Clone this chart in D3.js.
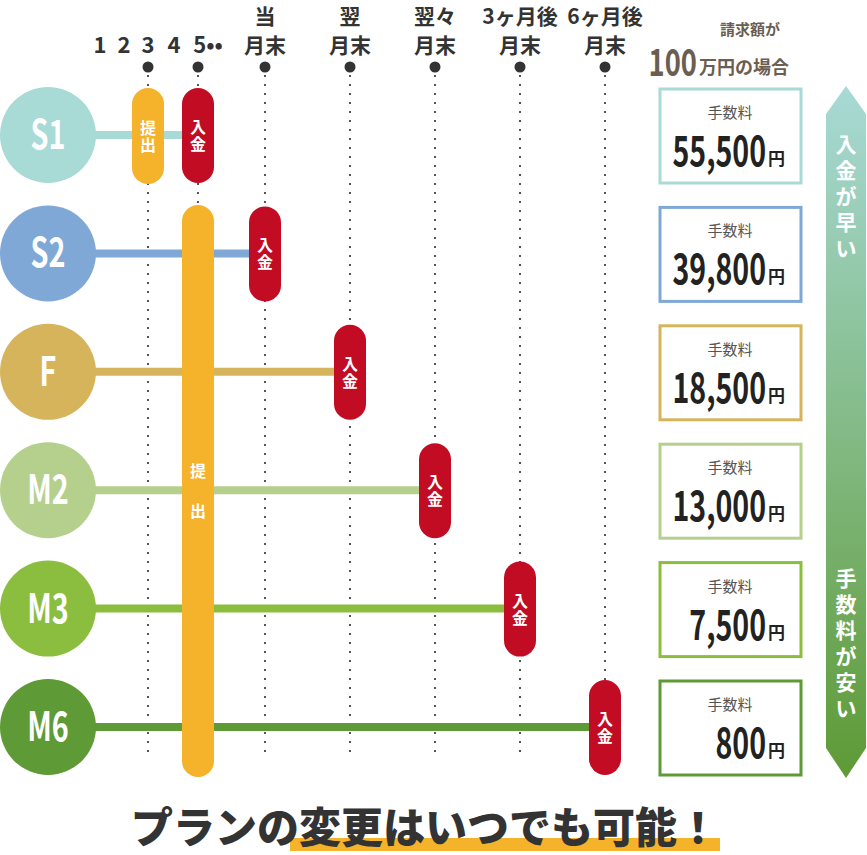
<!DOCTYPE html>
<html><head><meta charset="utf-8">
<script src="https://cdn.jsdelivr.net/npm/d3@7"></script>
<style>body{margin:0;background:#fff}text{font-family:"Noto Sans CJK JP","Noto Sans",sans-serif}</style>
</head><body>
<svg id="c" width="867" height="855"></svg>
<script>
// plans, colours, fee and payment column
var plans = ["S1","S2","F","M2","M3","M6"];
var planColors = ["#a8dad6","#7fa8d6","#d5b45c","#b5d08c","#8bbd3f","#5e9a35"];
var fees = ["55,500","39,800","18,500","13,000","7,500","800"];
var payCol = [4, 5, 6, 7, 8, 9];
var submitCol = [2, 4, 4, 4, 4, 4];
var dayLabels = ["1","2","3","4","5••"];
var monthTop = ["当","翌","翌々","3ヶ月後","6ヶ月後"];
var monthBottom = ["月末","月末","月末","月末","月末"];

var svg = d3.select("#c");
var red = "#c20c24", orange = "#f5b22b", dark = "#333";
var narrow = "'Roboto','Noto Sans',sans-serif";

// column positions (0..4 days, 5..9 month ends)
var colX = d3.scaleOrdinal().domain(d3.range(10))
  .range([100,124,148,174,198,265,350,435,520,605]);
var rowY = d3.scalePoint().domain(plans).range([135,727]);

// condensed text by horizontal squeeze
function squeezed(x, y, sx){
  return svg.append("g").attr("transform","translate("+x+","+y+") scale("+sx+",1)")
    .append("text");
}

// header labels
dayLabels.forEach(function(d,i){
  svg.append("text").attr("x", colX(i)+(i==4?10:0)).attr("y",53).attr("text-anchor","middle")
    .attr("font-size",22).attr("font-weight","bold").attr("fill",dark).text(d);
});
monthTop.forEach(function(d,i){
  svg.append("text").attr("x",colX(i+5)).attr("y",24).attr("text-anchor","middle")
    .attr("font-size",21).attr("font-weight","bold").attr("fill",dark).text(d);
  svg.append("text").attr("x",colX(i+5)).attr("y",53).attr("text-anchor","middle")
    .attr("font-size",21).attr("font-weight","bold").attr("fill",dark).text(monthBottom[i]);
});

// dots and dotted guides
[2,4,5,6,7,8,9].forEach(function(c){
  svg.append("circle").attr("cx",colX(c)).attr("cy",67).attr("r",5.5).attr("fill",dark);
  svg.append("line").attr("x1",colX(c)).attr("x2",colX(c)).attr("y1",75).attr("y2",752)
    .attr("stroke","#555").attr("stroke-width",2).attr("stroke-dasharray","2,7");
});

function pill(x, y1, y2, fill, label, spread){
  svg.append("rect").attr("x",x-16).attr("y",y1).attr("width",32).attr("height",y2-y1)
    .attr("rx",16).attr("fill",fill);
  var cy = (y1+y2)/2, gap = spread||17;
  label.split("").forEach(function(ch,k){
    svg.append("text").attr("x",x).attr("y",cy+(k-(label.length-1)/2)*gap+6)
      .attr("text-anchor","middle").attr("font-size",16).attr("font-weight","bold")
      .attr("fill","#fff").text(ch);
  });
}

// rows
plans.forEach(function(p,i){
  var y = rowY(p);
  svg.append("line").attr("x1",60).attr("x2",colX(payCol[i])).attr("y1",y).attr("y2",y)
    .attr("stroke",planColors[i]).attr("stroke-width",8);
});
// big shared submission pill
pill(colX(4), 205, 777, orange, "提出", 40);
plans.forEach(function(p,i){
  var y = rowY(p);
  if (i==0) pill(colX(submitCol[i]), 88, 184, orange, "提出");
  pill(colX(payCol[i]), y-47, y+48, red, "入金");
  svg.append("circle").attr("cx",48).attr("cy",y).attr("r",48).attr("fill",planColors[i]);
  squeezed(48, y+14, 0.72).attr("text-anchor","middle")
    .attr("font-family",narrow).attr("font-size",40).attr("font-weight","bold")
    .attr("fill","#fff").text(p);
  // fee box
  svg.append("rect").attr("x",660).attr("y",y-46).attr("width",141).attr("height",94)
    .attr("fill","#fff").attr("stroke",planColors[i]).attr("stroke-width",3);
  svg.append("text").attr("x",730).attr("y",y-17).attr("text-anchor","middle")
    .attr("font-size",15).attr("fill","#555").text("手数料");
  squeezed(766, y+31, 0.68).attr("text-anchor","end")
    .attr("font-family",narrow).attr("font-size",42).attr("font-weight","bold")
    .attr("fill","#222").text(fees[i]);
  svg.append("text").attr("x",768).attr("y",y+30).attr("font-size",17)
    .attr("font-weight","bold").attr("fill","#222").text("円");
});

// top-right header
svg.append("text").attr("x",750).attr("y",35).attr("text-anchor","middle")
  .attr("font-size",15).attr("font-weight","bold").attr("fill","#6b5d4f").text("請求額が");
squeezed(697, 76, 0.72).attr("text-anchor","end").attr("font-family",narrow)
  .attr("font-size",38).attr("font-weight","bold").attr("fill","#6b5d4f").text("100");
svg.append("text").attr("x",699).attr("y",74).attr("font-size",18).attr("font-weight","bold")
  .attr("fill","#6b5d4f").text("万円の場合");

// gradient arrow
var g = svg.append("defs").append("linearGradient").attr("id","ag")
  .attr("x1",0).attr("y1",0).attr("x2",0).attr("y2",1);
g.append("stop").attr("offset","0%").attr("stop-color","#a8dad6");
g.append("stop").attr("offset","100%").attr("stop-color","#5e9a35");
svg.append("path").attr("fill","url(#ag)")
  .attr("d", d3.line()([[846,86],[866,114],[866,748],[846,778],[826,748],[826,114]]) + "Z");
function vtext(s, y0){
  s.split("").forEach(function(ch,k){
    svg.append("text").attr("x",846).attr("y",y0+k*26).attr("text-anchor","middle")
      .attr("font-size",21).attr("font-weight","bold").attr("fill","#fff").text(ch);
  });
}
vtext("入金が早い", 152);
vtext("手数料が安い", 586);

// footer
svg.append("rect").attr("x",290).attr("y",838).attr("width",430).attr("height",13).attr("fill",orange);
svg.append("text").attr("x",425).attr("y",843).attr("text-anchor","middle")
  .attr("font-size",42).attr("font-weight","900").attr("fill","#333").text("プランの変更はいつでも可能！");
</script>
</body></html>
